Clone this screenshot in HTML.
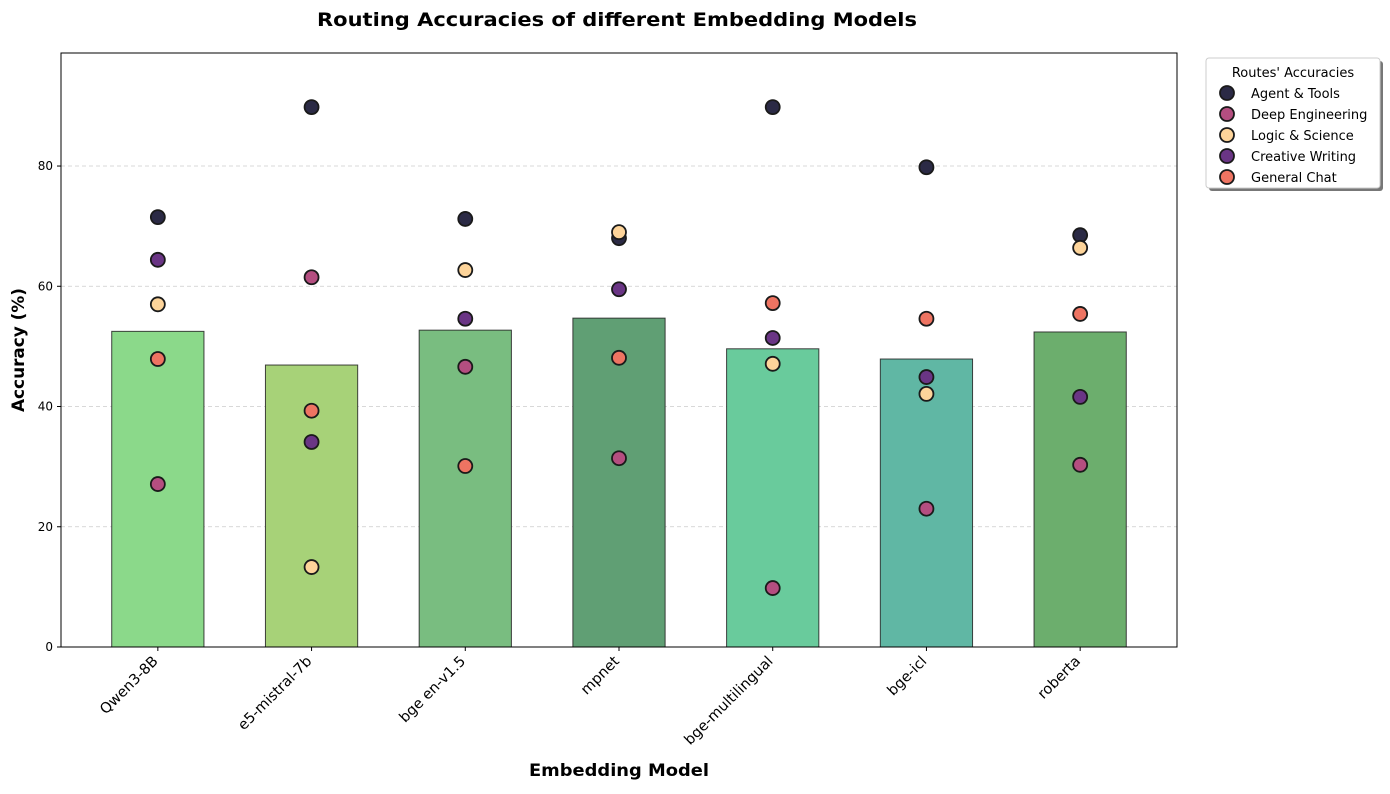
<!DOCTYPE html>
<html><head><meta charset="utf-8"><style>
body{margin:0;background:#fff;font-family:"Liberation Sans","DejaVu Sans",sans-serif;}
</style></head><body>
<svg id="chart" width="1390" height="789" xmlns="http://www.w3.org/2000/svg" font-family="'DejaVu Sans','Liberation Sans',sans-serif">
<text x="617" y="26" text-anchor="middle" font-size="19" font-weight="bold" textLength="600" lengthAdjust="spacingAndGlyphs">Routing Accuracies of different Embedding Models</text>
<g id="grid"></g><g id="bars"></g><g id="points"></g><g id="axes"></g>
<g>
<rect x="1209" y="61" width="174" height="130" fill="#777" rx="3"/>
<rect x="1206" y="58" width="174" height="130" fill="#fff" stroke="#ccc" rx="3"/>
<text x="1293" y="77" text-anchor="middle" font-size="13">Routes' Accuracies</text>
<g id="legend-items"></g>
</g>
<text x="619" y="776" text-anchor="middle" font-size="17" font-weight="bold" textLength="180" lengthAdjust="spacingAndGlyphs">Embedding Model</text>
<text transform="translate(24,350) rotate(-90)" text-anchor="middle" font-size="17" font-weight="bold" textLength="124" lengthAdjust="spacingAndGlyphs">Accuracy (%)</text>
</svg>
<script>
const categories=["Qwen3-8B","e5-mistral-7b","bge en-v1.5","mpnet","bge-multilingual","bge-icl","roberta"];
const barValues=[52.5,46.9,52.7,54.7,49.6,47.9,52.4];
const seriesNames=["Agent & Tools","Deep Engineering","Logic & Science","Creative Writing","General Chat"];
const agentTools=[71.5,89.8,71.2,68.0,89.8,79.8,68.5];
const deepEngineering=[27.1,61.5,46.6,31.4,9.8,23.0,30.3];
const logicScience=[57.0,13.3,62.7,69.0,47.1,42.1,66.4];
const creativeWriting=[64.4,34.1,54.6,59.5,51.4,44.9,41.6];
const generalChat=[47.9,39.3,30.1,48.1,57.2,54.6,55.4];
const yTicks=[0,20,40,60,80];
const series=[agentTools,deepEngineering,logicScience,creativeWriting,generalChat];
const seriesColors=["#2b2a45","#b44e80","#fdd49a","#6a3585","#ee7462"];
const barColors=["#8bd98a","#a7d278","#79bd80","#609f74","#69cb9c","#60b7a4","#6cae6d"];
const L=61,R=1177,T=53,B=647,ymax=98.8;
const step=(R-L)/7.26;
const x=i=>L+(i+0.63)*step;
const y=v=>B-(v/ymax)*(B-T);
const NS="http://www.w3.org/2000/svg";
function mk(p,tag,a){const e=document.createElementNS(NS,tag);for(const k in a)e.setAttribute(k,a[k]);document.getElementById(p).appendChild(e);return e;}
yTicks.forEach(t=>{if(t>0){const g=mk("grid","line",{x1:L,x2:R,y1:y(t),y2:y(t),stroke:"#ccc","stroke-dasharray":"4,3","stroke-width":0.8});

}
const tk=mk("axes","line",{x1:L-4,x2:L,y1:y(t),y2:y(t),stroke:"#000"});


const tl=mk("axes","text",{x:L-8,y:y(t)+4,"text-anchor":"end","font-size":12});tl.textContent=t;

});
const bw=step*0.6;
barValues.forEach((v,i)=>{const r=mk("bars","rect",{x:x(i)-bw/2,y:y(v),width:bw,height:B-y(v),fill:barColors[i],stroke:"#222","stroke-width":1,"stroke-opacity":0.85});


const tk=mk("axes","line",{x1:x(i),x2:x(i),y1:B,y2:B+4,stroke:"#000"});


const ax=x(i)+1,ay=B+15;
const tl=mk("axes","text",{x:ax,y:ay,"text-anchor":"end","font-size":14.5,transform:`rotate(-45 ${ax} ${ay})`});tl.textContent=categories[i];

});
series.forEach((s,j)=>{s.forEach((v,i)=>{const c=mk("points","circle",{cx:x(i),cy:y(v),r:7,fill:seriesColors[j],stroke:"#1a1a1a","stroke-width":1.8});

});
const lc=mk("legend-items","circle",{cx:1227,cy:93+j*21,r:7,fill:seriesColors[j],stroke:"#1a1a1a","stroke-width":1.8});


const lt=mk("legend-items","text",{x:1251,y:98+j*21,"font-size":13});lt.textContent=seriesNames[j];

});
const fr=mk("axes","rect",{x:L,y:T,width:R-L,height:B-T,fill:"none",stroke:"#000","stroke-width":1});


</script>
</body></html>
